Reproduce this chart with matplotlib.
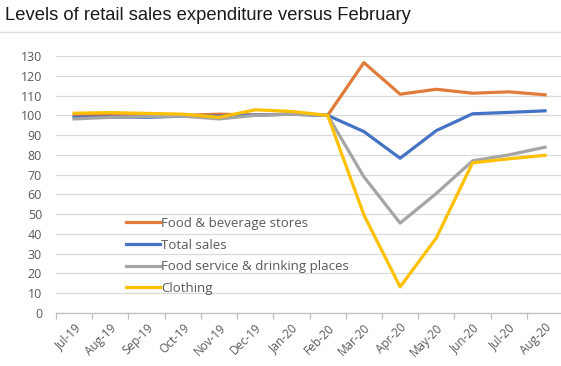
import matplotlib
matplotlib.use("Agg")
import matplotlib.pyplot as plt
from matplotlib.lines import Line2D
import numpy as np

## datos
meses = ['Jul-19', 'Aug-19', 'Sep-19', 'Oct-19', 'Nov-19', 'Dec-19', 'Jan-20',
         'Feb-20', 'Mar-20', 'Apr-20', 'May-20', 'Jun-20', 'Jul-20', 'Aug-20']
comida_bebida = [100.0, 100.2, 100.3, 100.0, 100.6, 100.2, 100.6, 100.0,
                 126.7, 110.7, 113.2, 111.2, 111.9, 110.4]
total = [99.0, 99.2, 99.0, 99.6, 99.6, 100.2, 100.6, 100.0,
         91.8, 78.3, 92.3, 100.8, 101.5, 102.3]
restauracion = [98.2, 99.0, 99.4, 99.6, 98.2, 100.0, 100.6, 100.0,
                68.9, 45.5, 60.5, 77.0, 80.0, 83.9]
ropa = [101.1, 101.4, 101.0, 100.6, 99.0, 102.8, 102.0, 100.0,
        49.6, 13.2, 38.0, 76.0, 78.0, 79.8]
series = [('Food & beverage stores', comida_bebida, '#E07B39'),
          ('Total sales', total, '#4472C4'),
          ('Food service & drinking places', restauracion, '#A5A5A5'),
          ('Clothing', ropa, '#FFC000')]
yticks = list(range(0, 131, 10))

gris = '#595959'
fig = plt.figure(figsize=(5.61, 3.66), dpi=100)
ax = fig.add_axes([0.0998, 0.1448, 0.904, 0.702])

x = np.arange(len(meses))
for nombre, valores, color in series:
    ax.plot(x, valores, color=color, lw=2.3, label=nombre, solid_joinstyle='round')

ax.set_xlim(-0.5, len(meses) - 0.5)
ax.set_ylim(0, 130)
ax.set_yticks(yticks)
ax.set_yticklabels([str(v) for v in yticks], color=gris, fontsize=9, family='Open Sans')
ax.tick_params(axis='y', length=0, pad=10)
ax.yaxis.grid(True, color='#D9D9D9', lw=0.9)
ax.set_axisbelow(True)

ax.set_xticks(x)
ax.set_xticklabels(meses, rotation=45, ha='right', rotation_mode='anchor',
                   color=gris, fontsize=8.5, family='Open Sans')
ax.tick_params(axis='x', length=0, pad=6)
ax.set_xticks(np.arange(-0.5, len(meses), 1), minor=True)
ax.tick_params(axis='x', which='minor', length=4, color='#BFBFBF', width=0.9)

for lado in ['top', 'right', 'left']:
    ax.spines[lado].set_visible(False)
ax.spines['bottom'].set_color('#BFBFBF')
ax.spines['bottom'].set_linewidth(0.9)

leg = ax.legend(loc='upper left', bbox_to_anchor=(0.115, 0.42), frameon=False,
                handlelength=2.6, handletextpad=0.05, labelspacing=0.65,
                prop={'family': 'Open Sans', 'size': 9.5})
for t in leg.get_texts():
    t.set_color(gris)

fig.text(0.009, 0.958, 'Levels of retail sales expenditure versus February',
         fontsize=13.2, family='Liberation Sans', color='#1a1a1a', va='center')
fig.add_artist(Line2D([0, 1], [0.913, 0.913], color='#DDDDDD', lw=1.0,
                      transform=fig.transFigure))

fig.savefig('out.png', dpi=100)
